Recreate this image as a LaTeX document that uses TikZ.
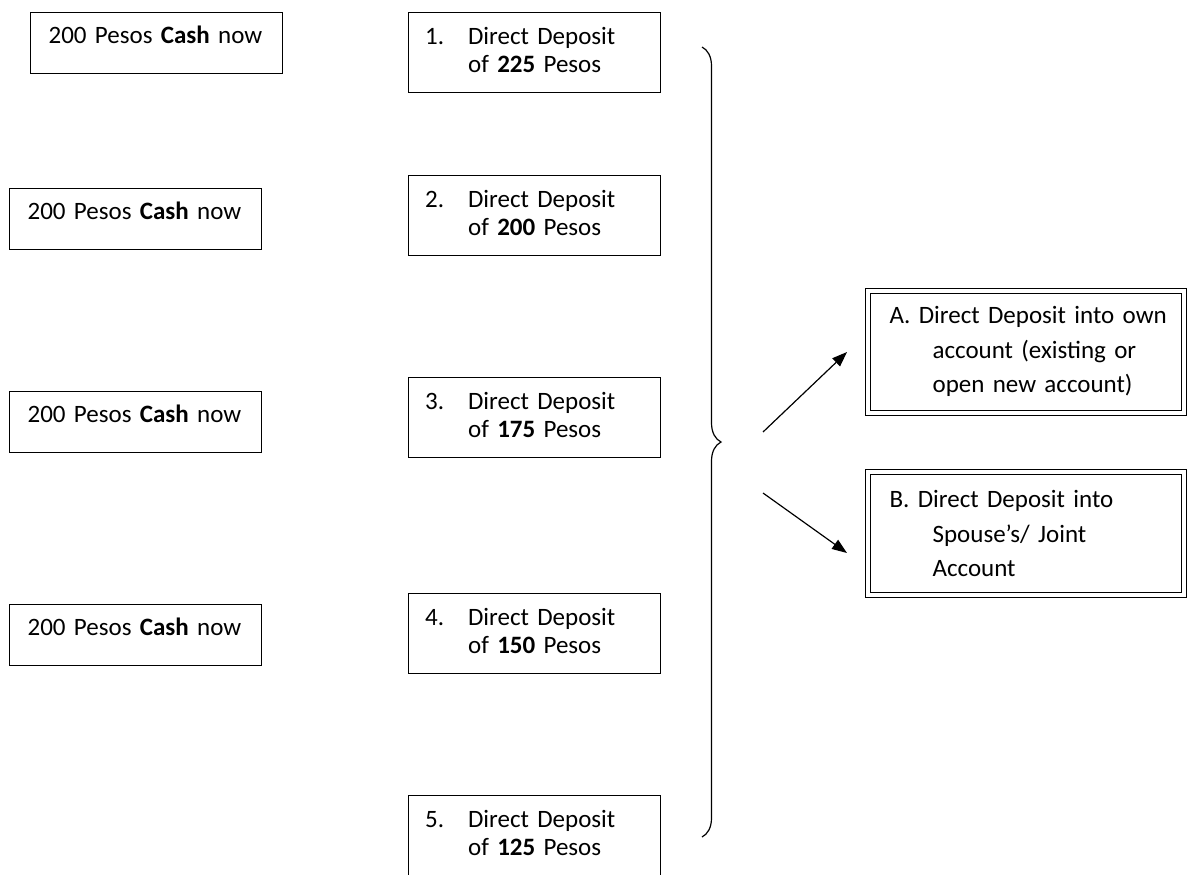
\documentclass[tikz,border=0pt]{standalone}
\usepackage{fontspec}
\setmainfont{Carlito}
\usetikzlibrary{arrows.meta,decorations.pathreplacing}

\begin{document}
\begin{tikzpicture}[x=0.5pt, y=-0.5pt,
  cashbox/.style={draw, line width=0.6pt, anchor=north west, align=left,
    font=\fontsize{12.5}{14}\selectfont, inner xsep=9pt, inner ysep=0pt,
    text width=108pt, text height=15.5pt, text depth=15pt},
  depbox/.style={draw, line width=0.6pt, anchor=north west, align=left,
    font=\fontsize{12.5}{14}\selectfont, inner xsep=8.5pt, inner ysep=0pt,
    text width=109pt, text height=15.75pt, text depth=24.25pt},
  optbox/.style={draw, double, line width=0.6pt, double distance=1.9pt,
    anchor=north west, align=left, font=\fontsize{12.5}{17.3}\selectfont,
    inner xsep=10.75pt, inner ysep=0pt, text width=136.25pt},
  arr/.style={line width=0.6pt, -{Triangle[length=7.5pt, width=5.5pt]}}]

  \clip (0,0) rectangle (1187,874);

  % cash now
  \foreach \n/\x/\y in {1/30/12, 2/9/188, 3/9/391, 4/9/604} {
    \node[cashbox] (cash\n) at (\x,\y) {200 Pesos \textbf{Cash} now};
  }

  % direct deposit amounts
  \foreach \n/\amt/\y in {1/225/12, 2/200/175, 3/175/377, 4/150/593, 5/125/795} {
    \node[depbox] (dep\n) at (407.5,\y)
      {\makebox[21.5pt][l]{\n.}Direct Deposit\\\hspace*{21.5pt}of \textbf{\amt} Pesos};
  }

  \draw[line width=0.6pt, decorate, decoration={brace, amplitude=9.5pt}]
    (702,47) -- (702,837);

  % where the deposit goes
  \node[optbox, text height=16.25pt, text depth=44.5pt] (optA) at (867.5,290.5)
    {\mbox{A. Direct Deposit into own}\\\hspace*{21.5pt}account (existing or\\\hspace*{21.5pt}open new account)};
  \node[optbox, text height=17.75pt, text depth=43.75pt] (optB) at (867.5,471.5)
    {B. Direct Deposit into\\\hspace*{21.5pt}Spouse’s/ Joint\\\hspace*{21.5pt}Account};

  \coordinate (upstart) at (763,432);
  \coordinate (upend) at (847,352);
  \coordinate (downstart) at (763,493);
  \coordinate (downend) at (847,553);
  \draw[arr] (upstart) -- (upend);
  \draw[arr] (downstart) -- (downend);

\end{tikzpicture}
\end{document}
